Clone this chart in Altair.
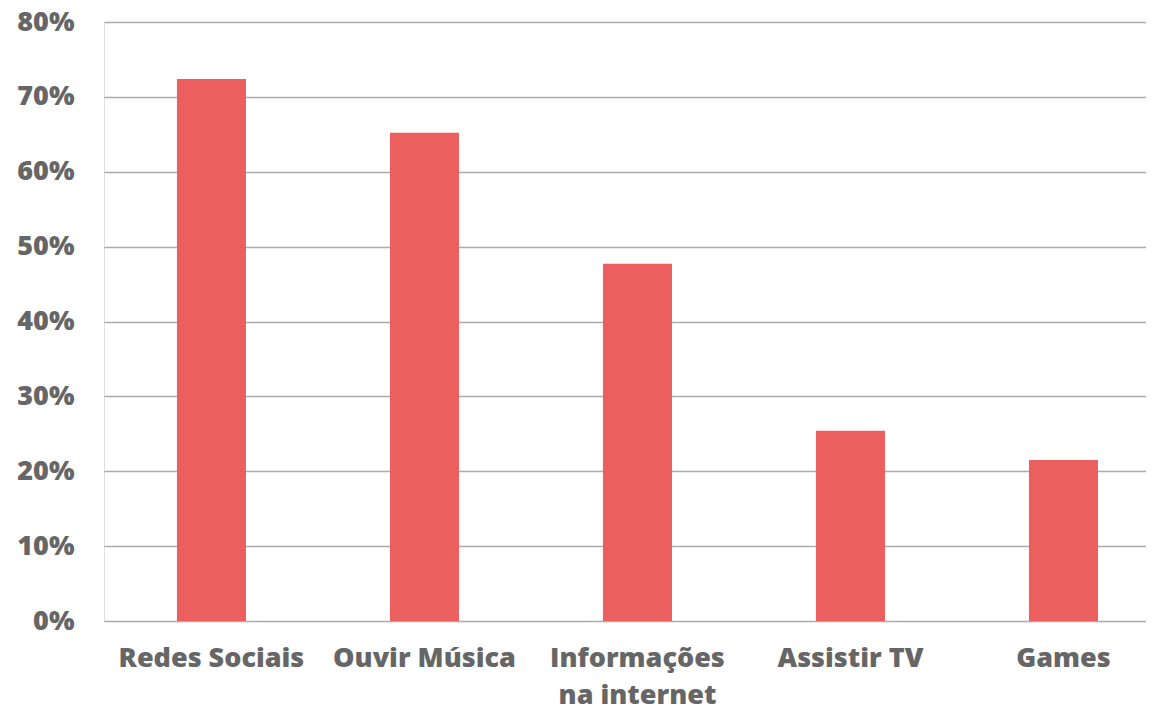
import altair as alt
import pandas as pd

categories = ["Redes Sociais", "Ouvir Música", "Informações\nna internet", "Assistir TV", "Games"]
values = [72.4, 65.2, 47.7, 25.4, 21.5]
y_ticks = [0, 10, 20, 30, 40, 50, 60, 70, 80]

df = pd.DataFrame({"cat": categories, "val": values})

TEXT = "#666666"
BAR = "#EB5F5E"
GRID = "#ABABAB"

chart = (
    alt.Chart(df)
    .mark_bar(color=BAR)
    .encode(
        x=alt.X(
            "cat:N",
            sort=categories,
            scale=alt.Scale(paddingInner=0.676, paddingOuter=0.284, align=0.603),
            axis=alt.Axis(
                title=None,
                labelAngle=0,
                ticks=False,
                domain=False,
                labelPadding=24,
                labelFont="Open Sans",
                labelFontWeight=800,
                labelFontSize=27,
                labelColor=TEXT,
                labelLineHeight=37,
                labelLimit=400,
                labelExpr="split(datum.value, '\\n')",
                grid=False,
            ),
        ),
        y=alt.Y(
            "val:Q",
            scale=alt.Scale(domain=[0, 80], nice=False),
            axis=alt.Axis(
                title=None,
                values=y_ticks,
                ticks=False,
                domain=False,
                labelPadding=30,
                labelFont="Open Sans",
                labelFontWeight=800,
                labelFontSize=27,
                labelColor=TEXT,
                labelExpr="datum.value + '%'",
                gridColor=GRID,
                gridWidth=1.4,
                gridOpacity=1,
            ),
        ),
    )
    .properties(
        width=1042,
        height=599,
        autosize=alt.AutoSizeParams(type="none"),
        padding={"left": 96, "top": 14, "right": 0, "bottom": 92},
    )
    .configure_view(strokeWidth=0, stroke="transparent")
    .configure(background="white")
)

chart.save("out.html", embed_options={"renderer": "svg", "actions": False})
